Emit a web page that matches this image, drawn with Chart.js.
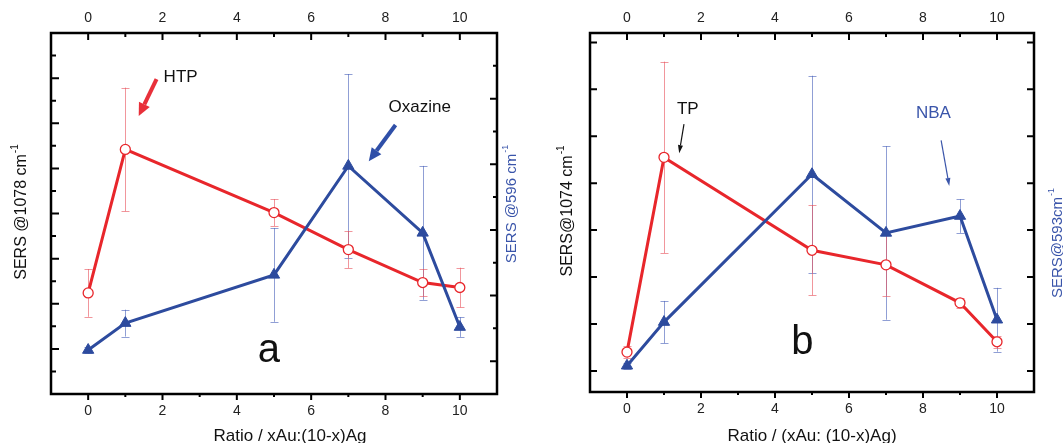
<!DOCTYPE html>
<html>
<head>
<meta charset="utf-8">
<script src="https://cdn.jsdelivr.net/npm/chart.js@4.4.0/dist/chart.umd.min.js"></script>
<style>
  body { margin: 0; background: #fff; width: 1063px; height: 443px; overflow: hidden; position: relative; }
  canvas { position: absolute; top: 0; }
  #ca { left: 0; }
  #cb { left: 520px; }
</style>
</head>
<body>
<canvas id="ca" width="520" height="443"></canvas>
<canvas id="cb" width="543" height="443"></canvas>
<script>
// x values: Au fraction
const ratios = [0, 1, 5, 7, 9, 10];

// panel a : HTP (left axis) and Oxazine (right axis)
const htp        = [2.24, 5.42, 4.02, 3.20, 2.47, 2.36];
const htpErr     = [0.53, 1.37, 0.30, 0.41, 0.30, 0.44];
const oxazine    = [1.34, 2.16, 3.63, 6.95, 4.91, 2.04];
const oxazineErr = [0.10, 0.41, 1.43, 2.80, 2.04, 0.30];

// panel b : TP (left axis) and NBA (right axis)
const tp     = [0.40, 4.55, 2.57, 2.26, 1.45, 0.62];
const tpErr  = [0.12, 2.04, 0.96, 0.66, 0.11, 0.13];
const nba    = [0.11, 1.04, 4.19, 2.94, 3.30, 1.09];
const nbaErr = [0.06, 0.45, 2.10, 1.85, 0.36, 0.68];

// tick labels / tick marks
const xLabelValues = [0, 2, 4, 6, 8, 10];
const xLabels = ['0', '2', '4', '6', '8', '10'];
const xMarks = [0, 1, 2, 3, 4, 5, 6, 7, 8, 9, 10];
const aLeftMarks = [0.5, 1, 1.5, 2, 2.5, 3, 3.5, 4, 4.5, 5, 5.5, 6, 6.5, 7, 7.5];
const aRightMarks = [1, 2, 3, 4, 5, 6, 7, 8, 9, 10];
const bMarks = [0, 1, 2, 3, 4, 5, 6, 7];

const FONT = '"Liberation Sans", Arial, Helvetica, sans-serif';
const RED = '#e8262b';
const BLUE = '#2d4b9e';
const RED_ERR = 'rgba(232,80,90,0.6)';
const BLUE_ERR = 'rgba(70,95,185,0.6)';

function pts(vals) {
  return ratios.map((x, i) => ({ x: x, y: vals[i] }));
}

function arrow(ctx, x1, y1, x2, y2, color, width, head, half) {
  const ang = Math.atan2(y2 - y1, x2 - x1);
  const bx = x2 - head * Math.cos(ang), by = y2 - head * Math.sin(ang);
  ctx.strokeStyle = color; ctx.fillStyle = color; ctx.lineWidth = width;
  ctx.beginPath(); ctx.moveTo(x1, y1); ctx.lineTo(bx, by); ctx.stroke();
  ctx.beginPath();
  ctx.moveTo(x2, y2);
  ctx.lineTo(bx + half * Math.sin(ang), by - half * Math.cos(ang));
  ctx.lineTo(bx - half * Math.sin(ang), by + half * Math.cos(ang));
  ctx.closePath(); ctx.fill();
}

// rotated axis title with a superscript
function rotTitle(ctx, x, y, main, sup, color, size) {
  ctx.save();
  ctx.translate(x, y);
  ctx.rotate(-Math.PI / 2);
  ctx.fillStyle = color;
  ctx.textBaseline = 'middle';
  ctx.textAlign = 'left';
  ctx.font = size + 'px ' + FONT;
  const w1 = ctx.measureText(main).width;
  ctx.font = Math.round(size * 0.62) + 'px ' + FONT;
  const w2 = ctx.measureText(sup).width;
  const x0 = -(w1 + w2 + 1) / 2;
  ctx.font = size + 'px ' + FONT;
  ctx.fillText(main, x0, 0);
  ctx.font = Math.round(size * 0.62) + 'px ' + FONT;
  ctx.fillText(sup, x0 + w1 + 1, -size * 0.45);
  ctx.restore();
}

function framePlugin(p) {
  return {
    id: 'frame',
    beforeDatasetsDraw(chart) {
      const ctx = chart.ctx, xs = chart.scales.x;
      ctx.save();
      chart.data.datasets.forEach(ds => {
        const ys = chart.scales[ds.yAxisID];
        ctx.strokeStyle = ds.errColor;
        ctx.lineWidth = 1;
        ds.data.forEach((pt, i) => {
          const px = Math.round(xs.getPixelForValue(pt.x)) + 0.5;
          const t = ys.getPixelForValue(pt.y + ds.err[i]);
          const b = ys.getPixelForValue(pt.y - ds.err[i]);
          ctx.beginPath();
          ctx.moveTo(px, t); ctx.lineTo(px, b);
          ctx.moveTo(px - 4, Math.round(t) + 0.5); ctx.lineTo(px + 4, Math.round(t) + 0.5);
          ctx.moveTo(px - 4, Math.round(b) + 0.5); ctx.lineTo(px + 4, Math.round(b) + 0.5);
          ctx.stroke();
        });
      });
      ctx.restore();
    },
    afterDraw(chart) {
      const ctx = chart.ctx, a = chart.chartArea;
      const xs = chart.scales.x, yl = chart.scales.y, yr = chart.scales.y2;
      ctx.save();
      // frame
      ctx.strokeStyle = '#000';
      ctx.lineWidth = 2.5;
      ctx.strokeRect(a.left, a.top, a.right - a.left, a.bottom - a.top);
      ctx.lineWidth = 2;
      ctx.beginPath();
      xMarks.forEach(v => {
        const px = xs.getPixelForValue(v);
        const len = v % 2 === 0 ? 7 : 4;
        ctx.moveTo(px, a.top); ctx.lineTo(px, a.top + len);
        ctx.moveTo(px, a.bottom); ctx.lineTo(px, a.bottom + len - 1);
      });
      p.leftMarks.forEach(v => {
        const py = yl.getPixelForValue(v);
        ctx.moveTo(a.left, py); ctx.lineTo(a.left + p.leftLen(v), py);
      });
      p.rightMarks.forEach(v => {
        const py = yr.getPixelForValue(v);
        ctx.moveTo(a.right, py); ctx.lineTo(a.right - p.rightLen(v), py);
      });
      ctx.stroke();

      // x tick labels, top and bottom
      ctx.fillStyle = '#222';
      ctx.font = '14px ' + FONT;
      ctx.textAlign = 'center';
      ctx.textBaseline = 'middle';
      xLabelValues.forEach((v, i) => {
        const px = xs.getPixelForValue(v);
        ctx.fillText(xLabels[i], px, 18);
        ctx.fillText(xLabels[i], px, p.bottomLabelY);
      });

      // axis titles
      ctx.font = '17px ' + FONT;
      ctx.textBaseline = 'alphabetic';
      ctx.fillStyle = '#111';
      ctx.fillText(p.xTitle, p.xTitleX, 441);
      rotTitle(ctx, p.leftTitleX, p.leftTitleY, p.leftTitle, '-1', '#111', 16);
      rotTitle(ctx, p.rightTitleX, p.rightTitleY, p.rightTitle, '-1', '#3a55aa', 15);

      // annotations (positions in data units)
      p.notes.forEach(n => {
        ctx.fillStyle = n.color;
        ctx.font = n.size + 'px ' + FONT;
        ctx.textAlign = n.align;
        ctx.textBaseline = 'middle';
        ctx.fillText(n.text, xs.getPixelForValue(n.x), yl.getPixelForValue(n.y));
        if (n.arrow) {
          const r = n.arrow;
          arrow(ctx, xs.getPixelForValue(r[0]), yl.getPixelForValue(r[1]),
                xs.getPixelForValue(r[2]), yl.getPixelForValue(r[3]),
                n.arrowColor, r[4], r[5], r[6]);
        }
      });
      ctx.restore();
    }
  };
}

function makeChart(id, p) {
  return new Chart(document.getElementById(id), {
    type: 'line',
    data: {
      datasets: [
        {
          label: p.blueName, data: pts(p.blue), err: p.blueErr, errColor: BLUE_ERR,
          yAxisID: 'y2', borderColor: BLUE, borderWidth: 3, tension: 0,
          pointStyle: 'triangle', pointRadius: 6.5, pointBackgroundColor: BLUE,
          pointBorderColor: BLUE, pointBorderWidth: 1, clip: false
        },
        {
          label: p.redName, data: pts(p.red), err: p.redErr, errColor: RED_ERR,
          yAxisID: 'y', borderColor: RED, borderWidth: 3, tension: 0,
          pointStyle: 'circle', pointRadius: 5, pointBackgroundColor: '#fff',
          pointBorderColor: RED, pointBorderWidth: 1.3, clip: false
        }
      ]
    },
    options: {
      responsive: false,
      animation: false,
      layout: { padding: p.pad },
      plugins: { legend: { display: false }, tooltip: { enabled: false } },
      scales: {
        x: { type: 'linear', min: -1, max: 11, display: false },
        y: { min: p.yMin, max: p.yMax, display: false },
        y2: { min: p.y2Min, max: p.y2Max, display: false, position: 'right' }
      }
    },
    plugins: [framePlugin(p)]
  });
}

makeChart('ca', {
  redName: 'HTP', red: htp, redErr: htpErr,
  blueName: 'Oxazine', blue: oxazine, blueErr: oxazineErr,
  yMin: 0, yMax: 8, y2Min: 0, y2Max: 11,
  pad: { left: 51, top: 33, right: 23, bottom: 49 },
  leftMarks: aLeftMarks, leftLen: v => (v % 1 === 0 ? 8 : 5),
  rightMarks: aRightMarks, rightLen: v => (v % 2 === 1 ? 7 : 4),
  bottomLabelY: 411,
  xTitle: 'Ratio / xAu:(10-x)Ag', xTitleX: 290,
  leftTitle: 'SERS @1078 cm', leftTitleX: 22, leftTitleY: 212,
  rightTitle: 'SERS @596 cm', rightTitleX: 512, rightTitleY: 204,
  notes: [
    { text: 'HTP', x: 2.03, y: 7.02, color: '#111', size: 17, align: 'left',
      arrow: [1.84, 6.98, 1.36, 6.16, 4, 13, 6], arrowColor: '#e8303a' },
    { text: 'Oxazine', x: 8.08, y: 6.36, color: '#111', size: 17, align: 'left',
      arrow: [8.27, 5.96, 7.55, 5.16, 4, 13, 6], arrowColor: '#2f4fa8' },
    { text: 'a', x: 4.86, y: 0.95, color: '#111', size: 40, align: 'center' }
  ]
});

makeChart('cb', {
  redName: 'TP', red: tp, redErr: tpErr,
  blueName: 'NBA', blue: nba, blueErr: nbaErr,
  yMin: -0.45, yMax: 7.2, y2Min: -0.45, y2Max: 7.2,
  pad: { left: 70, top: 33, right: 29, bottom: 51 },
  leftMarks: bMarks, leftLen: v => 7,
  rightMarks: bMarks, rightLen: v => 7,
  bottomLabelY: 409,
  xTitle: 'Ratio / (xAu: (10-x)Ag)', xTitleX: 292,
  leftTitle: 'SERS@1074 cm', leftTitleX: 48, leftTitleY: 211,
  rightTitle: 'SERS@593cm', rightTitleX: 538, rightTitleY: 243,
  notes: [
    { text: 'TP', x: 1.35, y: 5.57, color: '#111', size: 17, align: 'left',
      arrow: [1.54, 5.26, 1.41, 4.64, 1.2, 8, 2.5], arrowColor: '#111' },
    { text: 'NBA', x: 7.81, y: 5.49, color: '#3a55aa', size: 17, align: 'left',
      arrow: [8.49, 4.91, 8.71, 3.94, 1.2, 8, 2.5], arrowColor: '#3a55aa' },
    { text: 'b', x: 4.74, y: 0.6, color: '#111', size: 40, align: 'center' }
  ]
});
</script>
</body>
</html>
